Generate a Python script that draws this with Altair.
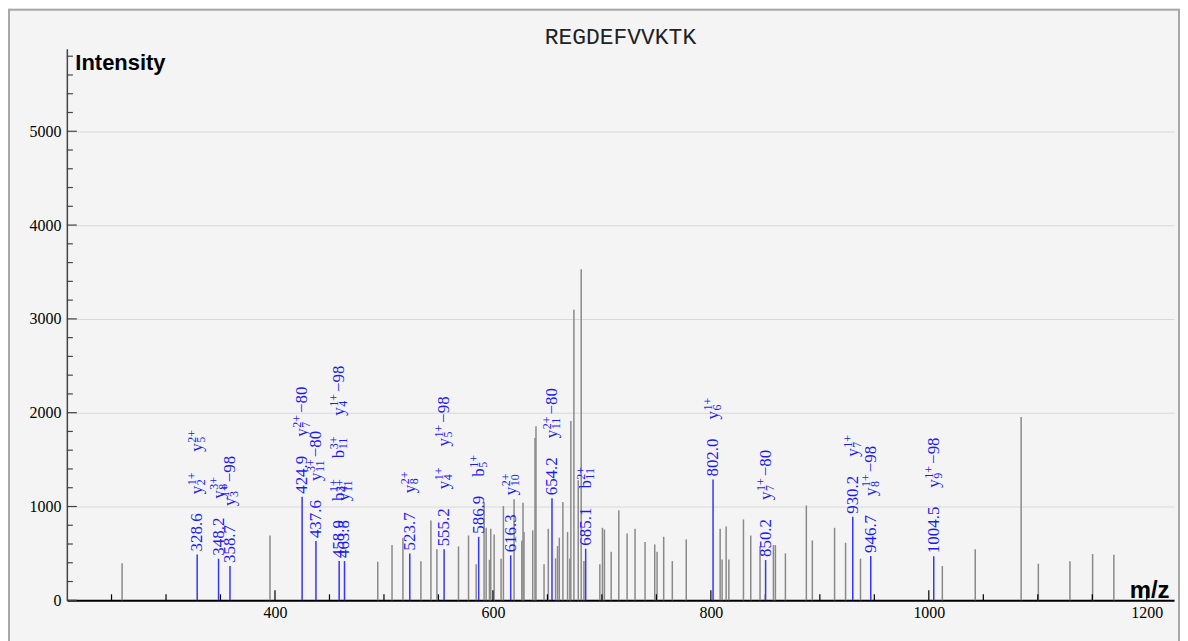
import altair as alt
import pandas as pd

TITLE = "REGDEFVVKTK"

# unmatched (grey) peaks
peak_mz = [259.7, 395.4, 494.3, 507.4, 517.4, 533.9, 543.1, 548.6, 568.4, 577.6,
           584.6, 591.9, 593.8, 596.8, 598.0, 601.1, 607.5, 609.6, 619.4, 626.5,
           627.6, 628.5, 636.5, 638.6, 639.5, 646.9, 650.8, 657.5, 659.3, 660.9,
           664.2, 668.5, 670.6, 671.5, 674.3, 678.3, 681.0, 683.5, 698.1, 700.5,
           702.3, 708.5, 715.5, 723.1, 730.4, 739.6, 748.5, 750.6, 756.7, 764.6,
           777.4, 808.5, 810.3, 814.0, 816.5, 829.9, 836.6, 845.1, 857.4, 859.2,
           868.4, 887.6, 893.1, 913.5, 923.6, 937.3, 1012.4, 1042.6, 1084.7, 1100.5,
           1129.5, 1150.3, 1169.8]
peak_int = [394, 691, 410, 589, 667, 415, 851, 545, 575, 691,
            383, 1048, 773, 432, 764, 702, 443, 1004, 1078, 635,
            1039, 727, 745, 1730, 1855, 383, 762, 447, 578, 667,
            1048, 729, 445, 1912, 3096, 1280, 3528, 418, 383, 773,
            755, 518, 961, 713, 762, 621, 596, 518, 677, 418,
            649, 762, 436, 787, 436, 862, 691, 578, 589, 589,
            500, 1011, 638, 773, 613, 443, 365, 543, 1954, 390,
            415, 493, 486]

# matched (annotated, blue) peaks
ann_mz = [328.6, 348.2, 358.7, 424.9, 437.6, 458.9, 463.8, 523.7, 555.2, 586.9,
          616.3, 654.2, 685.1, 802.0, 850.2, 930.2, 946.7, 1004.5]
ann_int = [489, 443, 365, 1103, 631, 418, 418, 500, 543, 677,
           479, 1087, 550, 1287, 429, 890, 472, 470]
# ion labels: (ion type, index, charge, neutral loss)
ann_ions = [
    [("y", "2", "1+", ""), ("y", "5", "2+", "")],
    [("y", "8", "3+", "")],
    [("y", "3", "1+", "−98")],
    [("y", "7", "2+", "−80")],
    [("y", "11", "3+", "−80")],
    [("b", "4", "1+", ""), ("b", "11", "3+", ""), ("y", "4", "1+", "−98")],
    [("y", "11", "3+", "")],
    [("y", "8", "2+", "")],
    [("y", "4", "1+", ""), ("y", "5", "1+", "−98")],
    [("b", "5", "1+", "")],
    [("y", "10", "2+", "")],
    [("y", "11", "2+", "−80")],
    [("b", "11", "2+", "")],
    [("y", "6", "1+", "")],
    [("y", "7", "1+", "−80")],
    [("y", "7", "1+", "")],
    [("y", "8", "1+", "−98")],
    [("y", "9", "1+", "−98")],
]

x_major = [400, 600, 800, 1000, 1200]
x_minor = [250, 300, 350, 450, 500, 550, 650, 700, 750, 850, 900, 950, 1050, 1100, 1150]
y_major = [0, 1000, 2000, 3000, 4000, 5000]
y_minor = [v for v in range(200, 5801, 200) if v % 1000]

# ---------------- layout ----------------
W, H = 1110, 553
X_DOMAIN = [209, 1225]
Y_DOMAIN = [0, 5880]
BLUE_TXT = "#1a1aff"
BLUE_LINE = "#3535ff"
SERIF = "Liberation Serif"
FS, FSS = 17, 12
CW = {".": 0.25, "+": 0.564, "−": 0.564, " ": 0.25}


def tw(s, fs):
    return fs * sum(CW.get(c, 0.5) for c in s)


u_per_px = Y_DOMAIN[1] / H
rows = []
for mz, inten, ions in zip(ann_mz, ann_int, ann_ions):
    a = 3
    t = f"{mz:.1f}"
    rows.append(dict(mz=mz, yv=inten + a * u_per_px, t=t, kind="main"))
    a += tw(t, FS) + 19
    for ion, idx, ch, loss in ions:
        rows.append(dict(mz=mz, yv=inten + a * u_per_px, t=ion, kind="main"))
        a2 = a + tw(ion, FS) + 0.5
        rows.append(dict(mz=mz, yv=inten + a2 * u_per_px, t=idx, kind="sub"))
        rows.append(dict(mz=mz, yv=inten + a2 * u_per_px, t=ch, kind="sup"))
        a3 = a2 + max(tw(idx, FSS), tw(ch, FSS)) + 2
        if loss:
            rows.append(dict(mz=mz, yv=inten + a3 * u_per_px, t=loss, kind="main"))
            a3 += tw(loss, FS)
        a = a3 + 19
lab = pd.DataFrame(rows)

noise_df = pd.DataFrame({"mz": peak_mz, "inten": peak_int})
ann_df = pd.DataFrame({"mz": ann_mz, "inten": ann_int})

xs = alt.Scale(domain=X_DOMAIN, nice=False, zero=False)
ys = alt.Scale(domain=Y_DOMAIN, nice=False, zero=False)

x_axis = alt.Axis(values=x_major, format="d", ticks=False, grid=False, domainColor="black",
                  domainWidth=2, labelFont=SERIF, labelFontSize=16, labelColor="black",
                  labelPadding=4, labelOverlap=False, labelFlush=False,
                  title="m/z", titleFont="Liberation Sans", titleFontSize=24,
                  titleFontWeight="bold", titleColor="black", titleX=W - 5, titleY=-3,
                  titleAlign="right", titleBaseline="alphabetic")
y_axis = alt.Axis(values=y_major, format="d", ticks=False, grid=True, gridColor="#d9d9d9",
                  gridWidth=1, domainColor="#444444", domainWidth=1.5,
                  labelFont=SERIF, labelFontSize=16, labelColor="black", labelPadding=6,
                  labelOverlap=False, labelFlush=False,
                  title="Intensity", titleAngle=0, titleX=8, titleY=4, titleAlign="left",
                  titleBaseline="top", titleFont="Liberation Sans", titleFontSize=22,
                  titleFontWeight="bold", titleColor="black")


def X(field):
    return alt.X(field, scale=xs, axis=x_axis)


def Y(field):
    return alt.Y(field, scale=ys, axis=y_axis)


border = alt.Chart(pd.DataFrame({"k": [0]})).mark_rect(
    fill="#f4f4f4", fillOpacity=0, stroke="#a8a8a8", strokeWidth=2, clip=False
).encode(x=alt.value(-58), x2=alt.value(W + 5), y=alt.value(-39), y2=alt.value(H + 80))

title = alt.Chart(pd.DataFrame({"t": [TITLE]})).mark_text(
    font="Liberation Mono", fontSize=23, color="#222222", align="center",
    baseline="alphabetic", clip=False
).encode(text="t:N", x=alt.value(W / 2), y=alt.value(-5))

noise = alt.Chart(noise_df).mark_rule(color="#8a8a8a", strokeWidth=1.5).encode(
    x=X("mz:Q"), y=Y("inten:Q"), y2=alt.datum(0),
)


def xticks(vals, length):
    return alt.Chart(pd.DataFrame({"mz": vals})).mark_rule(color="black", strokeWidth=1.2).encode(
        x=X("mz:Q"), y=alt.value(H), y2=alt.value(H - length))


def yticks(vals, length):
    return alt.Chart(pd.DataFrame({"inten": vals})).mark_rule(color="#444444", strokeWidth=1.2).encode(
        y=Y("inten:Q"), x=alt.value(0), x2=alt.value(length))


ann = alt.Chart(ann_df).mark_rule(color=BLUE_LINE, strokeWidth=1.5).encode(
    x=X("mz:Q"), y=Y("inten:Q"), y2=alt.datum(0),
)


def txt(kind, fs, dy):
    return alt.Chart(lab[lab.kind == kind]).mark_text(
        angle=270, align="left", baseline="middle", font=SERIF, fontSize=fs,
        color=BLUE_TXT, dy=dy, clip=False
    ).encode(
        x=X("mz:Q"), y=Y("yv:Q"), text="t:N",
    )


chart = alt.layer(
    border, title, noise,
    xticks(x_major, 10), xticks(x_minor, 6),
    yticks(y_major, 10), yticks(y_minor, 6),
    ann, txt("main", FS, 0), txt("sup", FSS, -5), txt("sub", FSS, 4),
).properties(
    width=W, height=H,
    padding={"left": 59, "top": 40, "right": 6, "bottom": 40},
    autosize=alt.AutoSizeParams(type="none"),
).configure(background="#f4f4f4").configure_view(strokeWidth=0).configure_axis(
    labelFont=SERIF, labelFontSize=16
)

chart.save("out.html", embed_options={"renderer": "svg", "actions": False})
